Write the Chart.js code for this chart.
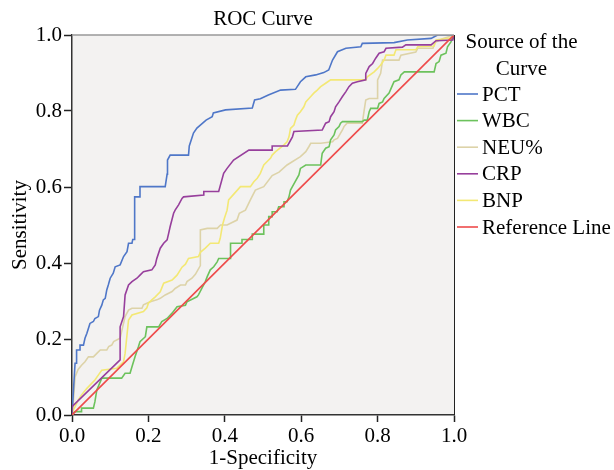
<!DOCTYPE html>
<html>
<head>
<meta charset="utf-8">
<script src="https://cdn.jsdelivr.net/npm/chart.js@4.4.1/dist/chart.umd.min.js"></script>
<style>
  html, body { margin: 0; padding: 0; background: #fff; }
  #wrap { width: 614px; height: 470px; }
</style>
</head>
<body>
<div id="wrap"><canvas id="roc" width="614" height="470"></canvas></div>
<script>
// ROC curve values (1-Specificity, Sensitivity)
var pctX = [0, 0.008, 0.012, 0.012, 0.021, 0.021, 0.03, 0.034, 0.039, 0.047, 0.056, 0.06, 0.069, 0.072, 0.078, 0.082, 0.087, 0.091, 0.095, 0.1, 0.108, 0.113, 0.126, 0.135, 0.144, 0.148, 0.157, 0.159, 0.164, 0.164, 0.178, 0.178, 0.244, 0.249, 0.25, 0.257, 0.305, 0.307, 0.318, 0.327, 0.351, 0.367, 0.37, 0.402, 0.472, 0.478, 0.493, 0.514, 0.546, 0.585, 0.598, 0.612, 0.638, 0.659, 0.672, 0.682, 0.695, 0.717, 0.756, 0.76, 0.843, 0.878, 0.94, 0.957, 1];
var pctY = [0, 0.136, 0.136, 0.171, 0.171, 0.184, 0.184, 0.202, 0.215, 0.241, 0.246, 0.254, 0.259, 0.276, 0.289, 0.303, 0.307, 0.329, 0.342, 0.36, 0.373, 0.39, 0.395, 0.417, 0.43, 0.452, 0.452, 0.462, 0.462, 0.574, 0.574, 0.601, 0.601, 0.634, 0.671, 0.684, 0.684, 0.708, 0.742, 0.755, 0.776, 0.785, 0.795, 0.803, 0.808, 0.829, 0.832, 0.842, 0.855, 0.857, 0.877, 0.89, 0.895, 0.901, 0.908, 0.934, 0.956, 0.965, 0.969, 0.978, 0.98, 0.987, 0.991, 1, 1];

var wbcX = [0, 0.008, 0.025, 0.025, 0.056, 0.06, 0.065, 0.078, 0.13, 0.139, 0.152, 0.157, 0.165, 0.174, 0.178, 0.192, 0.196, 0.227, 0.235, 0.249, 0.262, 0.275, 0.297, 0.301, 0.327, 0.331, 0.349, 0.354, 0.362, 0.371, 0.38, 0.384, 0.41, 0.415, 0.415, 0.445, 0.445, 0.472, 0.472, 0.502, 0.502, 0.515, 0.515, 0.524, 0.524, 0.537, 0.541, 0.555, 0.555, 0.563, 0.568, 0.572, 0.577, 0.594, 0.598, 0.612, 0.651, 0.655, 0.664, 0.673, 0.677, 0.686, 0.69, 0.699, 0.703, 0.708, 0.76, 0.765, 0.773, 0.778, 0.782, 0.8, 0.804, 0.813, 0.817, 0.83, 0.839, 0.843, 0.856, 0.861, 0.87, 0.948, 0.953, 0.961, 0.966, 0.979, 0.983, 0.992, 0.997, 1];
var wbcY = [0, 0.009, 0.009, 0.018, 0.018, 0.035, 0.066, 0.097, 0.097, 0.11, 0.11, 0.127, 0.153, 0.18, 0.193, 0.206, 0.232, 0.232, 0.246, 0.254, 0.268, 0.285, 0.289, 0.298, 0.311, 0.316, 0.351, 0.364, 0.382, 0.39, 0.403, 0.412, 0.412, 0.412, 0.452, 0.452, 0.462, 0.462, 0.476, 0.476, 0.5, 0.5, 0.522, 0.522, 0.535, 0.535, 0.548, 0.548, 0.561, 0.561, 0.574, 0.592, 0.601, 0.632, 0.649, 0.658, 0.658, 0.689, 0.702, 0.706, 0.724, 0.737, 0.75, 0.759, 0.768, 0.772, 0.772, 0.776, 0.776, 0.798, 0.807, 0.807, 0.82, 0.824, 0.833, 0.847, 0.868, 0.877, 0.882, 0.895, 0.903, 0.903, 0.925, 0.93, 0.947, 0.952, 0.969, 0.982, 0.995, 1];

var neuX = [0, 0.002, 0.008, 0.016, 0.025, 0.034, 0.043, 0.056, 0.065, 0.074, 0.091, 0.096, 0.104, 0.109, 0.126, 0.13, 0.139, 0.148, 0.157, 0.183, 0.187, 0.196, 0.205, 0.222, 0.231, 0.244, 0.262, 0.27, 0.284, 0.297, 0.301, 0.314, 0.323, 0.336, 0.336, 0.354, 0.38, 0.389, 0.406, 0.432, 0.438, 0.454, 0.467, 0.48, 0.502, 0.524, 0.542, 0.563, 0.598, 0.612, 0.62, 0.625, 0.651, 0.682, 0.686, 0.695, 0.708, 0.712, 0.72, 0.76, 0.765, 0.769, 0.778, 0.8, 0.8, 0.808, 0.813, 0.856, 0.861, 0.9, 0.905, 0.945, 0.95, 0.97, 1];
var neuY = [0, 0.013, 0.1, 0.12, 0.131, 0.14, 0.153, 0.153, 0.162, 0.171, 0.171, 0.18, 0.184, 0.193, 0.202, 0.22, 0.259, 0.276, 0.281, 0.281, 0.29, 0.294, 0.298, 0.303, 0.307, 0.316, 0.325, 0.333, 0.342, 0.342, 0.351, 0.36, 0.37, 0.393, 0.487, 0.491, 0.491, 0.5, 0.5, 0.513, 0.531, 0.539, 0.566, 0.592, 0.601, 0.63, 0.639, 0.658, 0.68, 0.693, 0.706, 0.715, 0.715, 0.719, 0.724, 0.728, 0.75, 0.759, 0.768, 0.768, 0.803, 0.829, 0.833, 0.833, 0.882, 0.899, 0.934, 0.934, 0.947, 0.955, 0.965, 0.965, 0.98, 0.99, 1];

var crpX = [0, 0, 0.126, 0.126, 0.135, 0.139, 0.148, 0.157, 0.17, 0.178, 0.187, 0.209, 0.218, 0.222, 0.231, 0.24, 0.249, 0.253, 0.257, 0.266, 0.27, 0.279, 0.288, 0.292, 0.345, 0.345, 0.384, 0.397, 0.406, 0.423, 0.463, 0.524, 0.524, 0.564, 0.577, 0.581, 0.655, 0.664, 0.673, 0.677, 0.686, 0.69, 0.699, 0.708, 0.717, 0.725, 0.734, 0.747, 0.769, 0.769, 0.778, 0.787, 0.795, 0.804, 0.817, 0.822, 0.865, 0.874, 0.94, 0.953, 0.997, 1];
var crpY = [0, 0.022, 0.145, 0.232, 0.259, 0.316, 0.342, 0.351, 0.36, 0.368, 0.377, 0.382, 0.395, 0.412, 0.439, 0.452, 0.461, 0.478, 0.496, 0.531, 0.539, 0.553, 0.57, 0.574, 0.579, 0.588, 0.588, 0.636, 0.649, 0.671, 0.697, 0.697, 0.708, 0.708, 0.732, 0.746, 0.75, 0.768, 0.772, 0.785, 0.798, 0.811, 0.824, 0.838, 0.851, 0.864, 0.873, 0.877, 0.882, 0.899, 0.917, 0.925, 0.939, 0.952, 0.956, 0.965, 0.968, 0.974, 0.974, 0.985, 0.987, 1];

var bnpX = [0, 0.003, 0.008, 0.016, 0.025, 0.039, 0.06, 0.078, 0.117, 0.135, 0.139, 0.144, 0.148, 0.157, 0.187, 0.196, 0.2, 0.209, 0.218, 0.231, 0.24, 0.262, 0.275, 0.288, 0.297, 0.305, 0.331, 0.336, 0.349, 0.362, 0.384, 0.388, 0.394, 0.399, 0.406, 0.41, 0.441, 0.467, 0.476, 0.485, 0.493, 0.502, 0.511, 0.52, 0.524, 0.533, 0.555, 0.563, 0.568, 0.572, 0.581, 0.585, 0.59, 0.598, 0.607, 0.612, 0.625, 0.633, 0.642, 0.651, 0.664, 0.677, 0.769, 0.773, 0.791, 0.8, 0.808, 0.817, 0.822, 0.843, 0.848, 0.9, 0.905, 0.948, 0.953, 0.992, 1];
var bnpY = [0, 0.013, 0.022, 0.039, 0.053, 0.07, 0.092, 0.118, 0.123, 0.14, 0.162, 0.211, 0.25, 0.263, 0.272, 0.282, 0.294, 0.303, 0.311, 0.324, 0.347, 0.355, 0.368, 0.389, 0.397, 0.412, 0.417, 0.428, 0.439, 0.452, 0.452, 0.465, 0.5, 0.518, 0.539, 0.566, 0.601, 0.601, 0.614, 0.623, 0.636, 0.658, 0.667, 0.676, 0.684, 0.693, 0.711, 0.719, 0.732, 0.754, 0.763, 0.776, 0.789, 0.798, 0.811, 0.824, 0.838, 0.847, 0.855, 0.864, 0.873, 0.882, 0.882, 0.89, 0.903, 0.912, 0.921, 0.934, 0.947, 0.947, 0.961, 0.961, 0.969, 0.971, 0.987, 0.992, 1];

var refX = [0, 1];
var refY = [0, 1];

var seriesNames = ['PCT', 'WBC', 'NEU%', 'CRP', 'BNP', 'Reference Line'];
var seriesColors = ['#4f77c8', '#6cc25c', '#ddd3a8', '#973f9c', '#f3e874', '#ee4b4b'];
var xTicks = [0, 0.2, 0.4, 0.6, 0.8, 1.0];

function toPoints(xs, ys) {
    var pts = [];
    for (var i = 0; i < xs.length; i++) {
        pts.push({ x: xs[i], y: ys[i] });
    }
    return pts;
}

var allX = [pctX, wbcX, neuX, crpX, bnpX, refX];
var allY = [pctY, wbcY, neuY, crpY, bnpY, refY];
var drawOrder = [2, 3, 5, 1, 4, 0];

var datasets = [];
for (var i = 0; i < seriesNames.length; i++) {
    datasets.push({
        label: seriesNames[i],
        data: toPoints(allX[i], allY[i]),
        borderColor: seriesColors[i],
        backgroundColor: seriesColors[i],
        borderWidth: 1.6,
        showLine: true,
        pointRadius: 0,
        tension: 0,
        order: drawOrder[i]
    });
}

var SERIF = "'Liberation Serif', 'Times New Roman', serif";

// background, frame, title, axis titles and legend
var decorPlugin = {
    id: 'decor',
    beforeDraw: function (chart) {
        var a = chart.chartArea;
        var ctx = chart.ctx;
        ctx.save();
        ctx.fillStyle = '#f3f2f1';
        ctx.fillRect(a.left, a.top, a.right - a.left, a.bottom - a.top);
        ctx.restore();
    },
    afterDraw: function (chart) {
        var a = chart.chartArea;
        var ctx = chart.ctx;
        ctx.save();
        // top and right frame
        ctx.strokeStyle = '#999999';
        ctx.lineWidth = 1.5;
        ctx.beginPath();
        ctx.moveTo(a.left, a.top);
        ctx.lineTo(a.right, a.top);
        ctx.stroke();
        ctx.strokeStyle = '#222222';
        ctx.lineWidth = 1;
        ctx.beginPath();
        ctx.moveTo(a.right + 0.5, a.top);
        ctx.lineTo(a.right + 0.5, a.bottom);
        ctx.stroke();

        ctx.fillStyle = '#000';
        ctx.font = '21px ' + SERIF;
        ctx.textAlign = 'center';
        ctx.textBaseline = 'middle';
        ctx.fillText('ROC Curve', (a.left + a.right) / 2, 19);
        ctx.fillText('1-Specificity', (a.left + a.right) / 2, 458);

        ctx.save();
        ctx.translate(20, (a.top + a.bottom) / 2);
        ctx.rotate(-Math.PI / 2);
        ctx.fillText('Sensitivity', 0, 0);
        ctx.restore();

        // legend
        ctx.fillText('Source of the', 521.5, 42);
        ctx.fillText('Curve', 521.5, 69);
        ctx.textAlign = 'left';
        for (var i = 0; i < seriesNames.length; i++) {
            var yy = 94 + i * 26.6;
            ctx.strokeStyle = seriesColors[i];
            ctx.lineWidth = 1.6;
            ctx.beginPath();
            ctx.moveTo(457, yy);
            ctx.lineTo(478, yy);
            ctx.stroke();
            ctx.fillStyle = '#000';
            ctx.fillText(seriesNames[i], 482, yy + 1);
        }
        ctx.restore();
    }
};

var ctx = document.getElementById('roc').getContext('2d');
var rocChart = new Chart(ctx, {
    type: 'scatter',
    data: { datasets: datasets },
    options: {
        responsive: false,
        animation: false,
        devicePixelRatio: 1,
        layout: { padding: { left: 0, right: 160, top: 35, bottom: 0 } },
        plugins: {
            legend: { display: false },
            title: { display: false },
            tooltip: { enabled: false }
        },
        scales: {
            x: {
                type: 'linear',
                min: 0,
                max: 1,
                afterFit: function (scale) { scale.height = 55; },
                afterBuildTicks: function (scale) {
                    scale.ticks = xTicks.map(function (v) { return { value: v }; });
                },
                ticks: {
                    color: '#000',
                    padding: 2,
                    font: { family: SERIF, size: 21 },
                    callback: function (v) { return Number(v).toFixed(1); }
                },
                grid: { drawOnChartArea: false, drawTicks: true, tickLength: 7, tickColor: '#222', tickWidth: 1.5 },
                border: { display: true, color: '#333', width: 1.5 }
            },
            y: {
                type: 'linear',
                min: 0,
                max: 1,
                afterFit: function (scale) { scale.width = 72; },
                afterBuildTicks: function (scale) {
                    scale.ticks = xTicks.map(function (v) { return { value: v }; });
                },
                ticks: {
                    color: '#000',
                    padding: 2,
                    font: { family: SERIF, size: 21 },
                    callback: function (v) { return Number(v).toFixed(1); }
                },
                grid: { drawOnChartArea: false, drawTicks: true, tickLength: 8, tickColor: '#222', tickWidth: 1.5 },
                border: { display: true, color: '#333', width: 1.5 }
            }
        }
    },
    plugins: [decorPlugin]
});
</script>
</body>
</html>
